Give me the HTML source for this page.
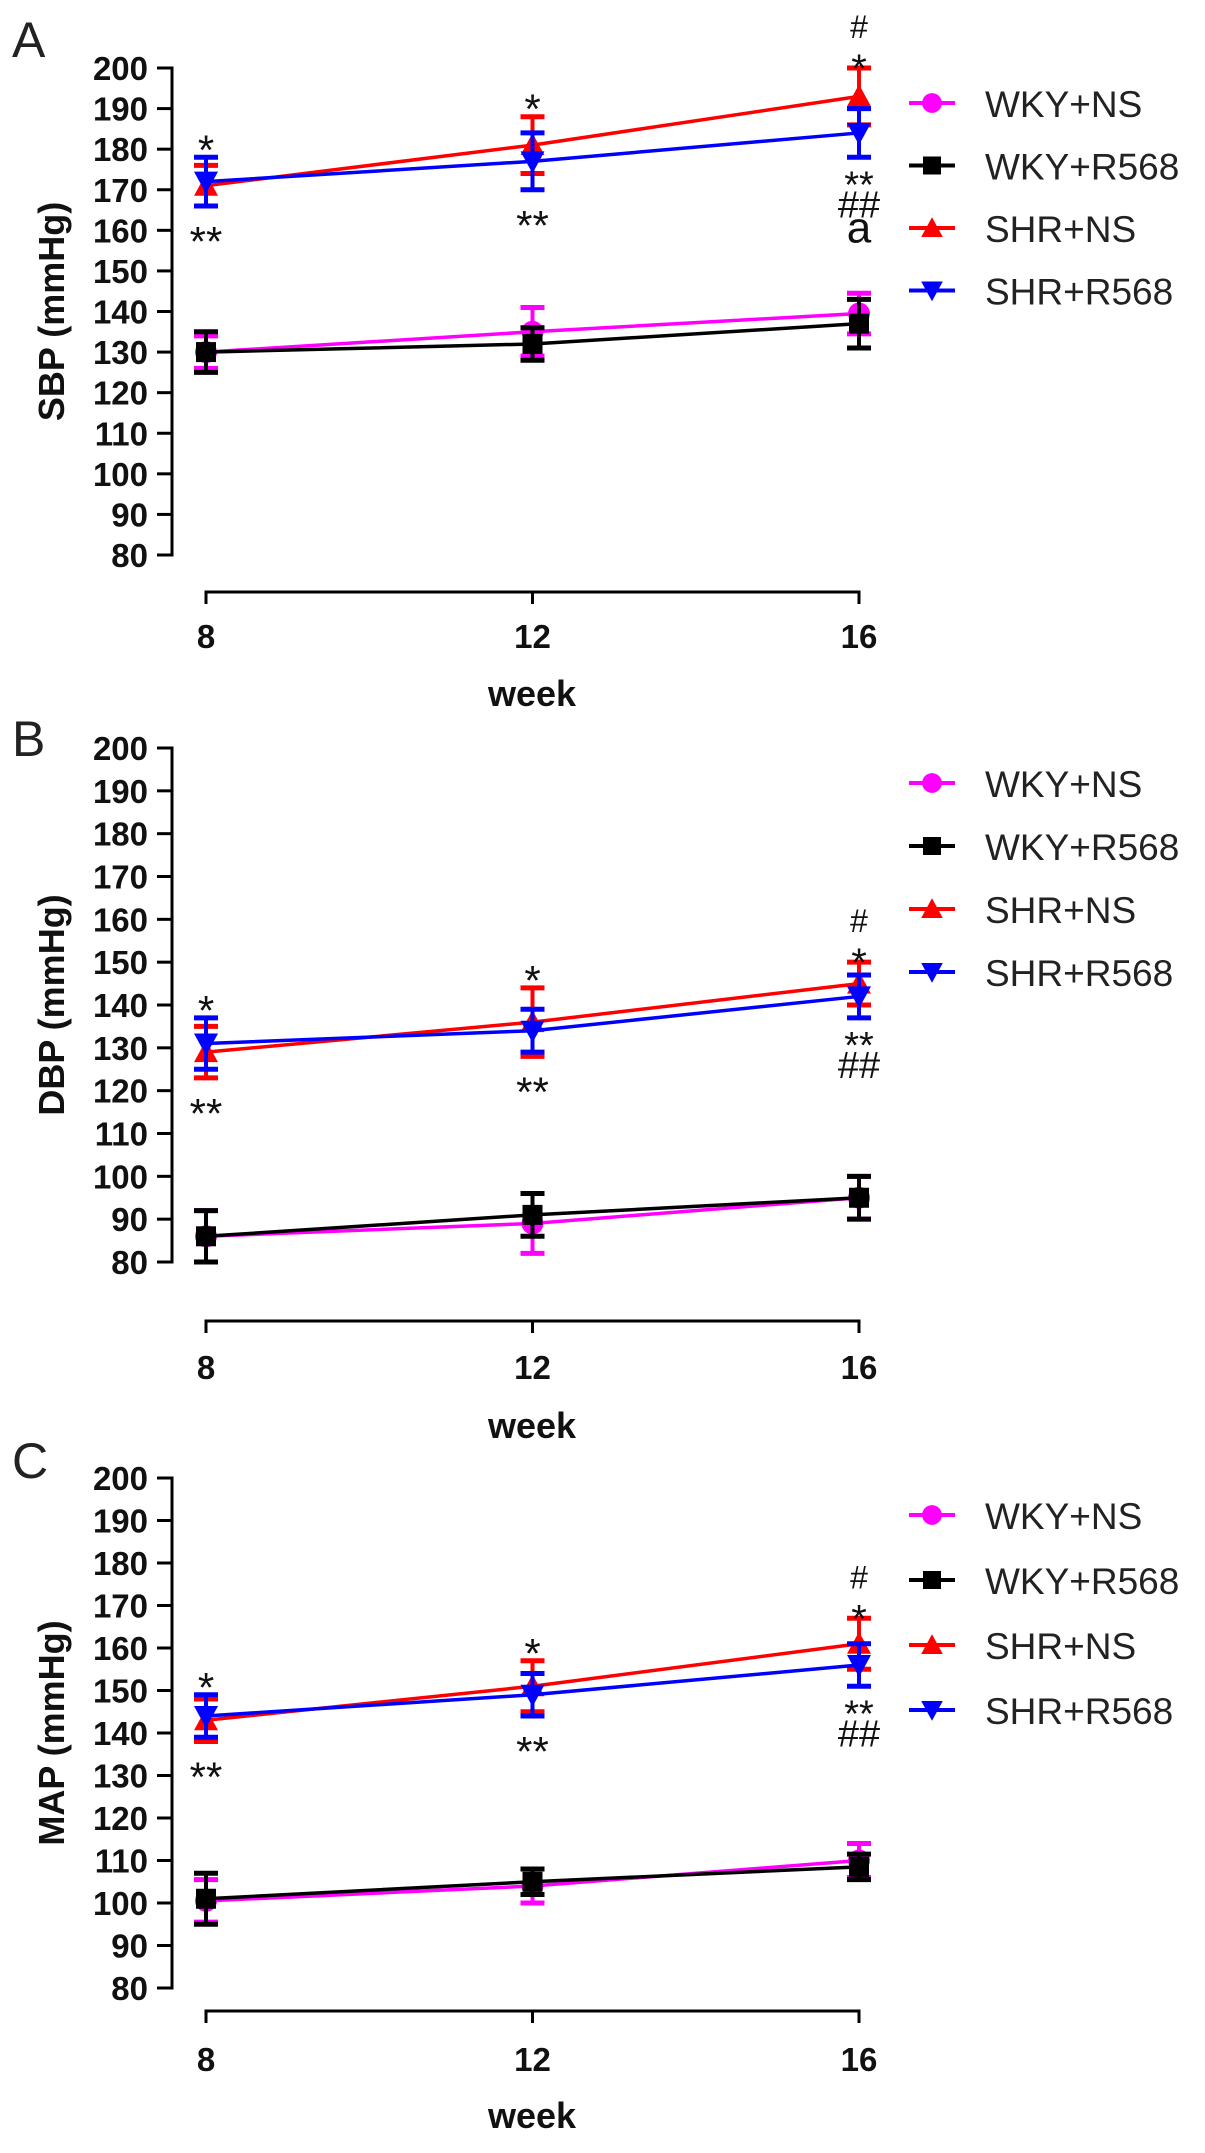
<!DOCTYPE html>
<html><head><meta charset="utf-8"><style>
html,body{margin:0;padding:0;background:#fff;}
svg{display:block;font-family:"Liberation Sans",Arial,sans-serif;}
</style></head><body>
<svg id="fig" width="1205" height="2153" viewBox="0 0 1205 2153" xmlns="http://www.w3.org/2000/svg"></svg>
<script>
const weeks = [8, 12, 16];
const yTicks = [80, 90, 100, 110, 120, 130, 140, 150, 160, 170, 180, 190, 200];
const seriesNames = ["WKY+NS", "WKY+R568", "SHR+NS", "SHR+R568"];
const seriesColors = ["#ff00ff", "#000000", "#ff0000", "#0000ff"];
const seriesMarkers = ["circle", "square", "up", "down"];
// SBP
const sbpWkyNs = [130, 135, 139.5];
const sbpWkyNsErr = [4, 6, 5];
const sbpWkyR = [130, 132, 137];
const sbpWkyRErr = [5, 4, 6];
const sbpShrNs = [171, 181, 193];
const sbpShrNsErr = [5, 7, 7];
const sbpShrR = [172, 177, 184];
const sbpShrRErr = [6, 7, 6];
// DBP
const dbpWkyNs = [86, 89, 95];
const dbpWkyNsErr = [6, 7, 5];
const dbpWkyR = [86, 91, 95];
const dbpWkyRErr = [6, 5, 5];
const dbpShrNs = [129, 136, 145];
const dbpShrNsErr = [6, 8, 5];
const dbpShrR = [131, 134, 142];
const dbpShrRErr = [6, 5, 5];
// MAP
const mapWkyNs = [100.5, 104, 110];
const mapWkyNsErr = [5, 4, 4];
const mapWkyR = [101, 105, 108.5];
const mapWkyRErr = [6, 3, 3];
const mapShrNs = [143, 151, 161];
const mapShrNsErr = [5, 6, 6];
const mapShrR = [144, 149, 156];
const mapShrRErr = [5, 5, 5];

const NS = "http://www.w3.org/2000/svg";
const svg = document.getElementById("fig");
function mk(tag, attrs, parent) {
  const e = document.createElementNS(NS, tag);
  for (const k in attrs) e.setAttribute(k, attrs[k]);
  (parent || svg).appendChild(e);
  return e;
}
function txt(str, attrs, parent) { const t = mk("text", attrs, parent); t.textContent = str; return t; }

const panels = [
  {letter:"A", title:"SBP (mmHg)", key:"sbp", top:68, bot:555, axisY:592, tickLblY:648, weekY:706, letterY:57, legTop:103, legStep:62.5,
   vals:[sbpWkyNs,sbpWkyR,sbpShrNs,sbpShrR], errs:[sbpWkyNsErr,sbpWkyRErr,sbpShrNsErr,sbpShrRErr], extraA:true},
  {letter:"B", title:"DBP (mmHg)", key:"dbp", top:748, bot:1262, axisY:1321, tickLblY:1379, weekY:1438, letterY:756, legTop:783, legStep:63,
   vals:[dbpWkyNs,dbpWkyR,dbpShrNs,dbpShrR], errs:[dbpWkyNsErr,dbpWkyRErr,dbpShrNsErr,dbpShrRErr], extraA:false},
  {letter:"C", title:"MAP (mmHg)", key:"map", top:1478, bot:1988, axisY:2011, tickLblY:2071, weekY:2128, letterY:1478, legTop:1515, legStep:65,
   vals:[mapWkyNs,mapWkyR,mapShrNs,mapShrR], errs:[mapWkyNsErr,mapWkyRErr,mapShrNsErr,mapShrRErr], extraA:false}
];

function marker(g, type, cx, cy, color, s) {
  let m;
  if (type === "circle") m = mk("circle", {cx:cx, cy:cy, r:s*0.55, fill:color}, g);
  else if (type === "square") m = mk("rect", {x:cx-s*0.5, y:cy-s*0.5, width:s, height:s, fill:color}, g);
  else if (type === "up") m = mk("polygon", {points:`${cx},${cy-s*0.6} ${cx-s*0.6},${cy+s*0.5} ${cx+s*0.6},${cy+s*0.5}`, fill:color}, g);
  else m = mk("polygon", {points:`${cx},${cy+s*0.6} ${cx-s*0.6},${cy-s*0.5} ${cx+s*0.6},${cy-s*0.5}`, fill:color}, g);
  return m;
}

panels.forEach(p => {
  const axisX = 172;
  const xScale = w => 206 + (w - 8) / 8 * (859 - 206);
  const yScale = v => p.bot - (v - 80) / 120 * (p.bot - p.top);
  const g = mk("g", {});
  
  

  const L = txt(p.letter, {x:12, y:p.letterY, "font-size":50, fill:"#222"}, g);
  
  

  const ya = mk("g", {}, g);
  
  
  mk("line", {x1:axisX, y1:p.top-1.5, x2:axisX, y2:p.bot+1.5, stroke:"#000", "stroke-width":3}, ya);
  yTicks.forEach(t => {
    const y = yScale(t);
    mk("line", {x1:axisX-15, y1:y, x2:axisX, y2:y, stroke:"#000", "stroke-width":3}, ya);
    const tl = txt(String(t), {x:148, y:y+12, "font-size":33, "font-weight":"bold", "text-anchor":"end", fill:"#111"}, ya);
    
    
  });
  const yt = txt(p.title, {x:0, y:0, "font-size":36, "font-weight":"bold", "text-anchor":"middle", fill:"#111",
    transform:`translate(64,${(p.top+p.bot)/2}) rotate(-90)`}, g);
  
  

  const xa = mk("g", {}, g);
  
  
  mk("line", {x1:xScale(8), y1:p.axisY, x2:xScale(16), y2:p.axisY, stroke:"#000", "stroke-width":3}, xa);
  weeks.forEach(w => {
    const x = xScale(w);
    mk("line", {x1:x, y1:p.axisY-1.5, x2:x, y2:p.axisY+12, stroke:"#000", "stroke-width":3}, xa);
    const tl = txt(String(w), {x:x, y:p.tickLblY, "font-size":33, "font-weight":"bold", "text-anchor":"middle", fill:"#111"}, xa);
    
    
  });
  const xt = txt("week", {x:532, y:p.weekY, "font-size":36, "font-weight":"bold", "text-anchor":"middle", fill:"#111"}, g);
  
  

  [0, 1, 2, 3].forEach(si => {
    const sg = mk("g", {}, g);
    
    
    const vals = p.vals[si], errs = p.errs[si], c = seriesColors[si];
    const pts = weeks.map((w, i) => `${xScale(w)},${yScale(vals[i])}`).join(" ");
    mk("polyline", {points:pts, fill:"none", stroke:c, "stroke-width":3.5}, sg);
    weeks.forEach((w, i) => {
      const x = xScale(w), y = yScale(vals[i]);
      const yt2 = yScale(vals[i] + errs[i]), yb = yScale(vals[i] - errs[i]);
      const eb = mk("g", {}, sg);
      
      
      mk("line", {x1:x, y1:yt2, x2:x, y2:yb, stroke:c, "stroke-width":4}, eb);
      mk("line", {x1:x-12, y1:yt2, x2:x+12, y2:yt2, stroke:c, "stroke-width":5}, eb);
      mk("line", {x1:x-12, y1:yb, x2:x+12, y2:yb, stroke:c, "stroke-width":5}, eb);
      const m = marker(sg, seriesMarkers[si], x, y, c, 20);
      
      
    });
  });

  const an = mk("g", {fill:"#111", "text-anchor":"middle"}, g);
  
  
  weeks.forEach((w, i) => {
    const x = xScale(w);
    const topV = Math.max(p.vals[2][i] + p.errs[2][i], p.vals[3][i] + p.errs[3][i]);
    const botV = Math.min(p.vals[2][i] - p.errs[2][i], p.vals[3][i] - p.errs[3][i]);
    const yt2 = yScale(topV), yb = yScale(botV);
    if (i === 2) {
      txt("*", {x:x, y:yt2 + 14, "font-size":40}, an);
      txt("#", {x:x, y:yt2 - 30, "font-size":32}, an);
      txt("**", {x:x, y:yb + 40, "font-size":38}, an);
      txt("##", {x:x, y:yb + 60, "font-size":38}, an);
      if (p.extraA) txt("a", {x:x, y:yb + 85, "font-size":44}, an);
    } else {
      txt("*", {x:x, y:yt2 + 7, "font-size":42}, an);
      txt("**", {x:x, y:yb + 50, "font-size":42}, an);
    }
  });

  const lg = mk("g", {}, g);
  
  
  seriesNames.forEach((n, si) => {
    const y = p.legTop + si * p.legStep;
    const e = mk("g", {}, lg);
    
    
    mk("line", {x1:909, y1:y, x2:955, y2:y, stroke:seriesColors[si], "stroke-width":4}, e);
    marker(e, seriesMarkers[si], 932, y, seriesColors[si], 18);
    txt(n, {x:985, y:y + 14, "font-size":37, fill:"#222"}, e);
  });
});
</script>
</body></html>
